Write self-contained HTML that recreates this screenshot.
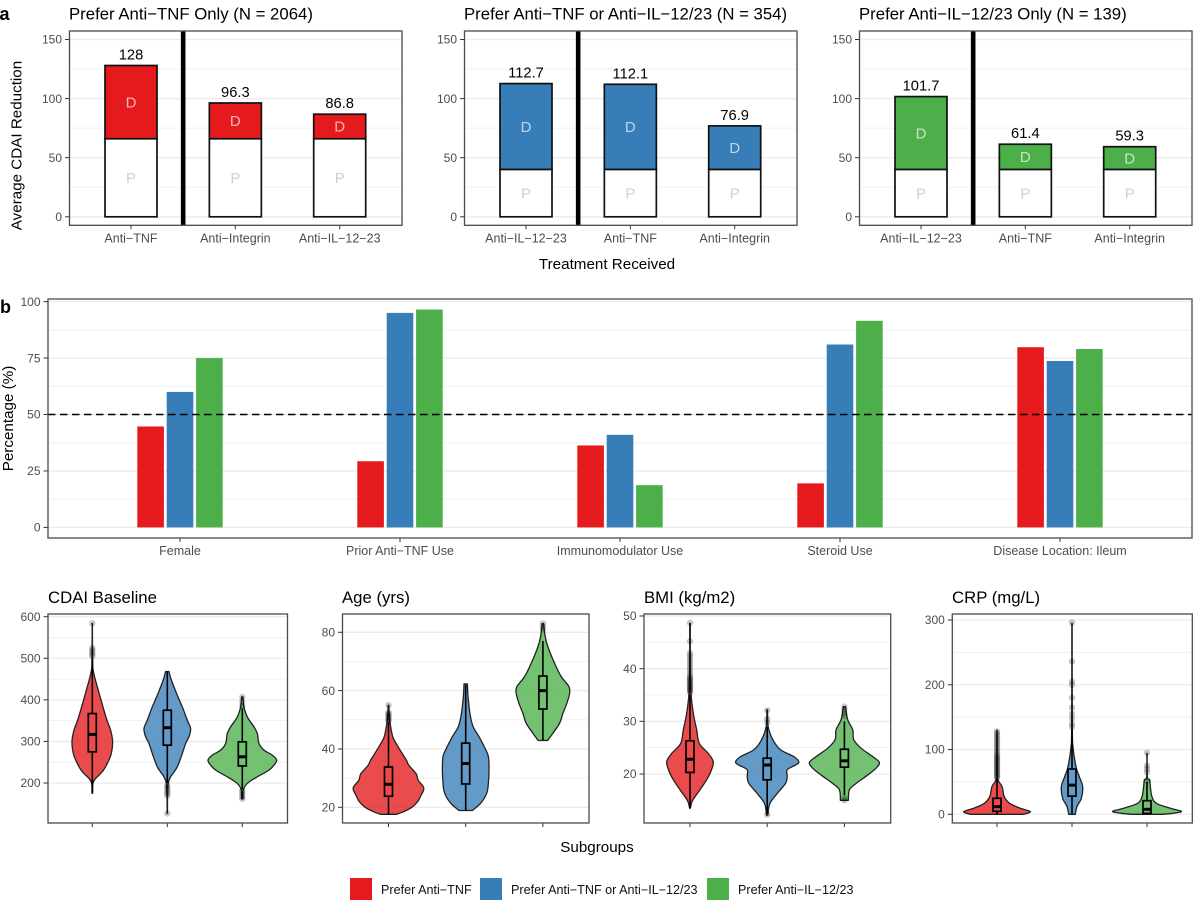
<!DOCTYPE html>
<html lang="en">
<head>
<meta charset="utf-8">
<title>CDAI reduction by treatment preference</title>
<style>
html,body{margin:0;padding:0;background:#fff;}
svg{display:block;font-family:"Liberation Sans",Arial,sans-serif;}
.tick{fill:#4d4d4d;font-size:12px;}
.xt{fill:#4d4d4d;font-size:12.5px;text-anchor:middle;}
.title{fill:#000;font-size:16.75px;}
.axt{fill:#000;font-size:15.2px;text-anchor:middle;}
.tag{fill:#000;font-size:18px;font-weight:bold;}
.val{fill:#000;font-size:14.7px;text-anchor:middle;}
.seg{fill:#cfcfcf;font-size:15px;text-anchor:middle;}
.seg-d{fill:#fff;fill-opacity:.68;}
.leg{fill:#111;font-size:12.6px;}
</style>
</head>
<body>
<svg id="fig" width="1200" height="909" viewBox="0 0 1200 909" xmlns="http://www.w3.org/2000/svg">
  <rect width="1200" height="909" fill="#fff"/>
  <text class="tag" x="-0.5" y="20">a</text>
  <text class="tag" x="0" y="313">b</text>
  <text class="title" x="69" y="19.5">Prefer Anti−TNF Only (N = 2064)</text>
  <text class="title" x="464" y="19.5">Prefer Anti−TNF or Anti−IL−12/23 (N = 354)</text>
  <text class="title" x="859" y="19.5">Prefer Anti−IL−12/23 Only (N = 139)</text>
  <text class="axt" transform="translate(21.6,145.5) rotate(-90)">Average CDAI Reduction</text>
  <text class="axt" x="607" y="269">Treatment Received</text>
  <text class="axt" transform="translate(13,418.5) rotate(-90)">Percentage (%)</text>
  <text class="title" x="48" y="603">CDAI Baseline</text>
  <text class="title" x="342" y="603">Age (yrs)</text>
  <text class="title" x="644" y="603">BMI (kg/m2)</text>
  <text class="title" x="952" y="603">CRP (mg/L)</text>
  <text class="axt" x="597" y="852">Subgroups</text>
  <g>
    <rect x="350" y="878" width="22" height="22" fill="#E41A1C"/>
    <text class="leg" x="381" y="894">Prefer Anti−TNF</text>
    <rect x="480" y="878" width="22" height="22" fill="#377EB8"/>
    <text class="leg" x="511" y="894">Prefer Anti−TNF or Anti−IL−12/23</text>
    <rect x="707" y="878" width="22" height="22" fill="#4DAF4A"/>
    <text class="leg" x="738" y="894">Prefer Anti−IL−12/23</text>
  </g>
</svg>
<script>
/* ---------- DATA: panel a ---------- */
const a1Treatments = ['Anti−TNF', 'Anti−Integrin', 'Anti−IL−12−23'];
const a1Totals = [128, 96.3, 86.8];
const a1Placebo = [66, 66, 66];
const a2Treatments = ['Anti−IL−12−23', 'Anti−TNF', 'Anti−Integrin'];
const a2Totals = [112.7, 112.1, 76.9];
const a2Placebo = [40, 40, 40];
const a3Treatments = ['Anti−IL−12−23', 'Anti−TNF', 'Anti−Integrin'];
const a3Totals = [101.7, 61.4, 59.3];
const a3Placebo = [40, 40, 40];
const aTicks = [0, 50, 100, 150];

/* ---------- DATA: panel b ---------- */
const bCategories = ['Female', 'Prior Anti−TNF Use', 'Immunomodulator Use', 'Steroid Use', 'Disease Location: Ileum'];
const bPreferTnf = [44.7, 29.3, 36.3, 19.5, 79.8];
const bPreferEither = [60, 95, 41, 81, 73.7];
const bPreferIl = [75, 96.5, 18.7, 91.5, 79];
const bTicks = [0, 25, 50, 75, 100];
const bReference = 50;

/* ---------- DATA: violins (value grid, relative density, box stats [lo,q1,med,q3,hi], outliers) ---------- */
const cdaiTicks = [200, 300, 400, 500, 600];
const cdaiRedV = [175,199,211,227,247,271,299,327,351,383,423,455,475,500,540,584];
const cdaiRedD = [.01,.02,.10,.30,.45,.57,.61,.55,.44,.32,.18,.07,.02,.01,.005,.004];
const cdaiRedBox = [178,275,317,367,500];
const cdaiRedOut = [505,510,515,520,525,584];
const cdaiBlueV = [127,175,200,215,239,271,295,311,331,351,383,415,448,468];
const cdaiBlueD = [.004,.01,.03,.10,.30,.45,.55,.65,.70,.60,.45,.28,.12,.05];
const cdaiBlueBox = [200,291,333,375,468];
const cdaiBlueOut = [127,170,175,180,185,190,195];
const cdaiGreenV = [162,183,199,215,231,243,255,267,279,295,319,335,359,383,407];
const cdaiGreenD = [.02,.03,.15,.45,.80,.95,1.03,.90,.65,.50,.45,.35,.15,.05,.02];
const cdaiGreenBox = [185,241,263,299,380];
const cdaiGreenOut = [162,167,172,177,182,385,395,407];

const ageTicks = [20, 40, 60, 80];
const ageRedV = [17.6,18.5,20,22,24,26.6,29.3,31.5,34.4,36.1,39,41.3,44.1,48.7,52,55];
const ageRedD = [.24,.45,.70,.88,.97,1.06,.89,.83,.61,.54,.38,.26,.13,.05,.02,.01];
const ageRedBox = [17.6,23.8,27.9,33.8,49];
const ageRedOut = [49.5,50,50.5,51,51.5,52,52.5,55];
const ageBlueV = [18.9,21.4,24.8,28.2,32.8,37.4,40.2,44.2,47.7,52,58,62.3];
const ageBlueD = [.20,.45,.63,.68,.70,.68,.58,.40,.22,.13,.07,.05];
const ageBlueBox = [19,28,35,42,62];
const ageBlueOut = [];
const ageGreenV = [42.9,45.4,48.8,52.2,55.7,59,61.4,64.8,69.4,75,78.5,83];
const ageGreenD = [.14,.30,.50,.60,.72,.80,.78,.55,.35,.15,.07,.02];
const ageGreenBox = [43,53.7,60,65,77];
const ageGreenOut = [81,82,83];

const bmiTicks = [20, 30, 40, 50];
const bmiRedV = [13.5,15,17,18.9,20.4,22.3,23.9,25.8,28.4,31.5,35.3,40,48.6];
const bmiRedD = [.01,.08,.30,.50,.62,.70,.55,.28,.20,.10,.03,.01,.01];
const bmiRedBox = [13.5,20.3,22.8,26.3,35];
const bmiRedOut = [35.5,35.8,36,36.3,36.5,36.8,37,37.3,37.5,37.8,38,38.3,38.5,39,39.5,40,40.5,41,41.5,42,42.5,43,45.2,48.7];
const bmiBlueV = [12.2,14.4,16.3,18.2,19.5,20.8,21.7,22.3,23.3,24.6,26.5,29,32.2];
const bmiBlueD = [.02,.08,.30,.55,.60,.60,.85,.95,.80,.40,.17,.03,.01];
const bmiBlueBox = [12.5,18.9,21.7,23,29];
const bmiBlueOut = [12.3,29.8,30.5,32.1];
const bmiGreenV = [15,17,18.2,19.8,21.1,22.2,23.3,24.9,26.5,28.4,30.3,32.8];
const bmiGreenD = [.12,.15,.35,.70,.95,1.05,.85,.50,.28,.25,.10,.03];
const bmiGreenBox = [16,21.3,22.5,24.7,30];
const bmiGreenOut = [15,15.4,31,31.6,32.2,32.8];

const crpTicks = [0, 100, 200, 300];
const crpRedV = [0,4.1,9.3,17,27,43,53,68,130];
const crpRedD = [.80,1.00,.70,.38,.22,.15,.03,.01,.005];
const crpRedBox = [0,4.6,11.8,24.7,55];
const crpRedOut = [56,58,60,62,64,66,68,70,72,74,76,78,80,82,84,86,88,90,92,95,98,101,104,107,110,113,116,119,122,125,128];
const crpBlueV = [0,12,24.7,42.7,58,73.6,104,135,295];
const crpBlueD = [.10,.15,.28,.32,.22,.12,.03,.01,.005];
const crpBlueBox = [0,28,45,70,130];
const crpBlueOut = [135,140,148,155,165,180,200,205,236,296];
const crpGreenV = [0,4,9.3,17,27,43,53,58,94];
const crpGreenD = [.50,1.03,.70,.28,.15,.10,.08,.01,.005];
const crpGreenBox = [0,1.5,7.7,21,50];
const crpGreenOut = [52,65,70,75,95];

/* ---------- LAYOUT ---------- */
const COLORS = {red:'#E41A1C', blue:'#377EB8', green:'#4DAF4A'};
const svg = document.getElementById('fig');
const NS = 'http://www.w3.org/2000/svg';

function make(tag, attrs, parent) {
  const n = document.createElementNS(NS, tag);
  for (const k in attrs) n.setAttribute(k, attrs[k]);
  (parent || svg).appendChild(n);
  return n;
}
function linear(d0, d1, r0, r1) {
  return v => r0 + (v - d0) * (r1 - r0) / (d1 - d0);
}
function band(c0, step) {
  return i => c0 + i * step;
}

/* panel frame: grid first, returned group holds marks, border added by panelBorder() */
function panelFrame(name, box, y, ticks) {
  const g = make('g', {});
  
  
  make('rect', {x:box.l, y:box.t, width:box.r-box.l, height:box.b-box.t, fill:'#fff'}, g);
  const gridG = make('g', {}, g);
  
  
  ticks.forEach((t, i) => {
    make('line', {x1:box.l, x2:box.r, y1:y(t), y2:y(t), stroke:'#ebebeb', 'stroke-width':1.3}, gridG);
    if (i < ticks.length - 1) {
      const m = (t + ticks[i+1]) / 2;
      make('line', {x1:box.l, x2:box.r, y1:y(m), y2:y(m), stroke:'#f1f1f1', 'stroke-width':1}, gridG);
    }
    make('line', {x1:box.l-4.5, x2:box.l, y1:y(t), y2:y(t), stroke:'#333', 'stroke-width':1}, g);
    const lab = make('text', {x:box.l-7.5, y:y(t)+4.2, 'text-anchor':'end', class:'tick'}, g);
    lab.textContent = t;
    
    
  });
  return g;
}
function panelBorder(g, box) {
  const b = make('rect', {x:box.l, y:box.t, width:box.r-box.l, height:box.b-box.t, fill:'none', stroke:'#4a4a4a', 'stroke-width':1.3}, g);
  
  
}
function xTick(g, box, px, label, dy) {
  make('line', {x1:px, x2:px, y1:box.b, y2:box.b+4, stroke:'#333', 'stroke-width':1}, g);
  if (label) {
    const t = make('text', {x:px, y:box.b+dy, class:'xt'}, g);
    t.textContent = label;
    
    
  }
}

/* ---------- panel a ---------- */
function drawStacked(name, box, c0, step, cats, totals, placebo, color) {
  const y = linear(0, 150, 216.8, 39.5);
  const x = band(c0, step);
  const g = panelFrame(name, box, y, aTicks);
  const barW = 52;
  cats.forEach((c, i) => {
    const px = x(i);
    const drug = make('rect', {x:px-barW/2, y:y(totals[i]), width:barW, height:y(placebo[i])-y(totals[i]), fill:color, stroke:'#111', 'stroke-width':1.7}, g);
    
    
    const pl = make('rect', {x:px-barW/2, y:y(placebo[i]), width:barW, height:y(0)-y(placebo[i]), fill:'#fff', stroke:'#111', 'stroke-width':1.7}, g);
    
    
    const d = make('text', {x:px, y:y((totals[i]+placebo[i])/2)+5.2, class:'seg seg-d'}, g);
    d.textContent = 'D';
    
    
    const p = make('text', {x:px, y:y(placebo[i]/2)+5.2, class:'seg'}, g);
    p.textContent = 'P';
    
    
    const v = make('text', {x:px, y:y(totals[i])-6, class:'val'}, g);
    v.textContent = totals[i];
    
    
    xTick(g, box, px, c, 17);
  });
  const sep = make('line', {x1:x(0.5), x2:x(0.5), y1:box.t, y2:box.b, stroke:'#000', 'stroke-width':4.6}, g);
  
  
  panelBorder(g, box);
}
drawStacked('panel-prefer-anti-tnf', {l:69.5,r:402,t:31,b:225.3}, 131, 104.35, a1Treatments, a1Totals, a1Placebo, COLORS.red);
drawStacked('panel-prefer-either', {l:464.5,r:797,t:31,b:225.3}, 526, 104.35, a2Treatments, a2Totals, a2Placebo, COLORS.blue);
drawStacked('panel-prefer-il', {l:859.5,r:1192,t:31,b:225.3}, 921, 104.35, a3Treatments, a3Totals, a3Placebo, COLORS.green);

/* ---------- panel b ---------- */
(function () {
  const box = {l:48, r:1192, t:299, b:538};
  const y = linear(0, 100, 527.4, 301.6);
  const x = band(180, 220);
  const g = panelFrame('panel-baseline-percentages', box, y, bTicks);
  const series = [[bPreferTnf, COLORS.red], [bPreferEither, COLORS.blue], [bPreferIl, COLORS.green]];
  bCategories.forEach((c, i) => {
    series.forEach((s, j) => {
      const px = x(i) + (j - 1) * 29.4;
      const r = make('rect', {x:px-13.3, y:y(s[0][i]), width:26.6, height:y(0)-y(s[0][i]), fill:s[1]}, g);
      
      
    });
    xTick(g, box, x(i), c, 17);
  });
  const ref = make('line', {x1:box.l, x2:box.r, y1:y(bReference), y2:y(bReference), stroke:'#000', 'stroke-width':1.6, 'stroke-dasharray':'7.5 4.5'}, g);
  
  
  panelBorder(g, box);
})();

/* ---------- violins ---------- */
function smoothPath(pts) {
  let d = 'M' + pts[0][0].toFixed(2) + ' ' + pts[0][1].toFixed(2);
  for (let i = 0; i < pts.length - 1; i++) {
    const p0 = pts[Math.max(i-1, 0)], p1 = pts[i], p2 = pts[i+1], p3 = pts[Math.min(i+2, pts.length-1)];
    const c1x = p1[0] + (p2[0]-p0[0])/6, c1y = p1[1] + (p2[1]-p0[1])/6;
    const c2x = p2[0] - (p3[0]-p1[0])/6, c2y = p2[1] - (p3[1]-p1[1])/6;
    d += 'C' + c1x.toFixed(2) + ' ' + c1y.toFixed(2) + ' ' + c2x.toFixed(2) + ' ' + c2y.toFixed(2) + ' ' + p2[0].toFixed(2) + ' ' + p2[1].toFixed(2);
  }
  return d;
}
function drawViolin(g, cx, y, vals, dens, stats, outliers, color) {
  const k = 33.33;
  const right = vals.map((v, i) => [cx + dens[i]*k, y(v)]);
  const left = vals.map((v, i) => [cx - dens[i]*k, y(v)]).reverse();
  const dR = smoothPath(right);
  const dL = smoothPath(left).replace(/^M/, 'L');
  const body = make('path', {d:dR + dL + 'Z', fill:color, 'fill-opacity':.78, stroke:'#222', 'stroke-width':1.3, 'stroke-linejoin':'round'}, g);
  
  
  outliers.forEach(o => {
    const c = make('circle', {cx:cx, cy:y(o), r:3.2, fill:'#000', 'fill-opacity':.22}, g);
    
    
  });
  const w1 = make('line', {x1:cx, x2:cx, y1:y(stats[0]), y2:y(stats[1]), stroke:'#000', 'stroke-width':1.6}, g);
  
  
  const w2 = make('line', {x1:cx, x2:cx, y1:y(stats[3]), y2:y(stats[4]), stroke:'#000', 'stroke-width':1.6}, g);
  
  
  const bx = make('rect', {x:cx-4, y:y(stats[3]), width:8, height:y(stats[1])-y(stats[3]), fill:'none', stroke:'#000', 'stroke-width':1.7}, g);
  
  
  const med = make('line', {x1:cx-4, x2:cx+4, y1:y(stats[2]), y2:y(stats[2]), stroke:'#000', 'stroke-width':3}, g);
  
  
}
function drawViolinPanel(name, box, y, ticks, c0, step, groups) {
  const g = panelFrame(name, box, y, ticks);
  const x = band(c0, step);
  groups.forEach((s, i) => {
    drawViolin(g, x(i), y, s[0], s[1], s[2], s[3], s[4]);
    xTick(g, box, x(i), '', 0);
  });
  panelBorder(g, box);
}
drawViolinPanel('panel-cdai-baseline', {l:48,r:287.5,t:614,b:823}, linear(200,600,783,616.7), cdaiTicks, 92.3, 75, [
  [cdaiRedV, cdaiRedD, cdaiRedBox, cdaiRedOut, COLORS.red],
  [cdaiBlueV, cdaiBlueD, cdaiBlueBox, cdaiBlueOut, COLORS.blue],
  [cdaiGreenV, cdaiGreenD, cdaiGreenBox, cdaiGreenOut, COLORS.green]]);
drawViolinPanel('panel-age', {l:342.5,r:589,t:614,b:823}, linear(20,80,807.3,632.3), ageTicks, 388.5, 77.2, [
  [ageRedV, ageRedD, ageRedBox, ageRedOut, COLORS.red],
  [ageBlueV, ageBlueD, ageBlueBox, ageBlueOut, COLORS.blue],
  [ageGreenV, ageGreenD, ageGreenBox, ageGreenOut, COLORS.green]]);
drawViolinPanel('panel-bmi', {l:644,r:890.7,t:614,b:823}, linear(20,50,774,616), bmiTicks, 690, 77.2, [
  [bmiRedV, bmiRedD, bmiRedBox, bmiRedOut, COLORS.red],
  [bmiBlueV, bmiBlueD, bmiBlueBox, bmiBlueOut, COLORS.blue],
  [bmiGreenV, bmiGreenD, bmiGreenBox, bmiGreenOut, COLORS.green]]);
drawViolinPanel('panel-crp', {l:952.3,r:1192.3,t:614,b:823}, linear(0,300,814.3,620), crpTicks, 997, 75, [
  [crpRedV, crpRedD, crpRedBox, crpRedOut, COLORS.red],
  [crpBlueV, crpBlueD, crpBlueBox, crpBlueOut, COLORS.blue],
  [crpGreenV, crpGreenD, crpGreenBox, crpGreenOut, COLORS.green]]);
</script>
</body>
</html>
